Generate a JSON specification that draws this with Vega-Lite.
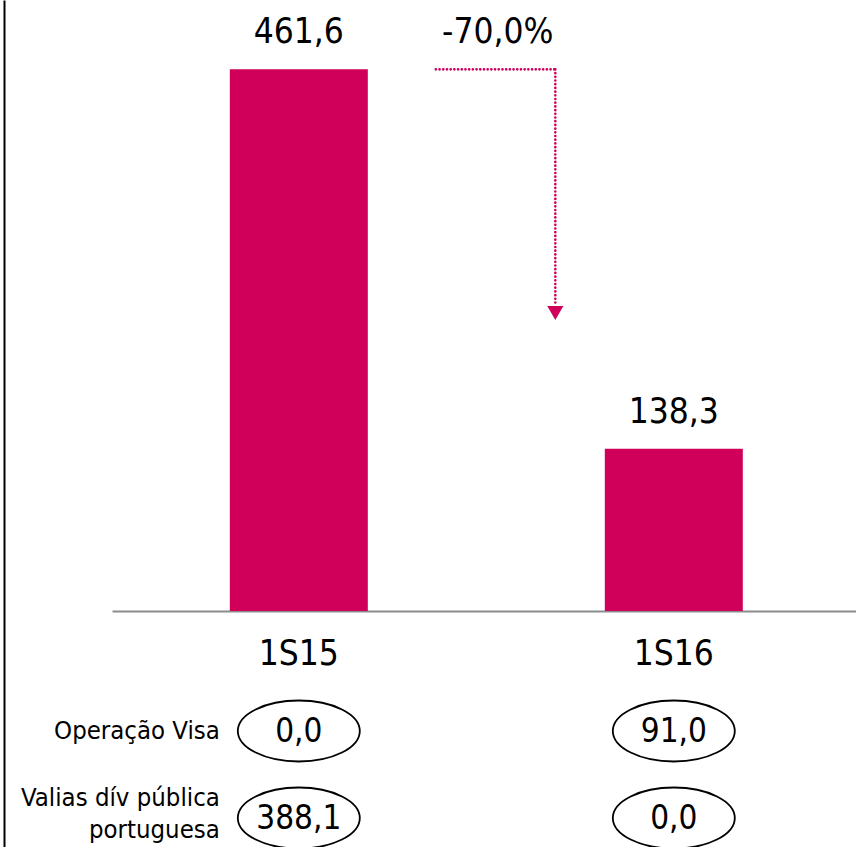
{
  "$schema": "https://vega.github.io/schema/vega-lite/v6.json",
  "width": 744,
  "height": 847,
  "autosize": {"type": "none"},
  "padding": {"left": 112, "top": 0, "right": 0, "bottom": 0},
  "background": "white",
  "config": {
    "view": {"stroke": null},
    "font": "DejaVu Sans Condensed",
    "text": {"font": "DejaVu Sans Condensed", "color": "#000000"},
    "axis": {"labelFont": "DejaVu Sans Condensed"}
  },
  "datasets": {
    "bars": [
      {"period": "1S15", "value": 461.6, "label": "461,6"},
      {"period": "1S16", "value": 138.3, "label": "138,3"}
    ],
    "table": [
      {"period": "1S15", "item": "Operação Visa", "value": "0,0"},
      {"period": "1S16", "item": "Operação Visa", "value": "91,0"},
      {"period": "1S15", "item": "Valias dív pública\nportuguesa", "value": "388,1"},
      {"period": "1S16", "item": "Valias dív pública\nportuguesa", "value": "0,0"}
    ],
    "change": [
      {"from": "1S15", "to": "1S16", "start": 461.6, "end": 262, "head": 254, "label": "-70,0%"}
    ]
  },
  "layer": [
    {
      "layer": [
        {
          "data": {"name": "bars"},
          "mark": {"type": "bar", "color": "#D0005A"},
          "encoding": {
            "x": {
              "field": "period", "type": "nominal",
              "scale": {"domain": ["1S15", "1S16"], "paddingInner": 0.632, "paddingOuter": 0.308, "align": 0.51},
              "axis": {
                "title": null, "orient": "bottom", "offset": -236,
                "domainColor": "#8c8c8c", "domainWidth": 2, "ticks": false,
                "labelFontSize": 35, "labelColor": "#000000", "labelPadding": 53,
                "labelBaseline": "alphabetic", "labelAngle": 0, "grid": false
              }
            },
            "y": {
              "field": "value", "type": "quantitative",
              "scale": {"domain": [-201.1, 520.7], "nice": false},
              "axis": {
                "title": null, "offset": 108, "domainColor": "#000000", "domainWidth": 2,
                "ticks": false, "labels": false, "grid": false
              }
            },
            "y2": {"datum": 0}
          }
        },
        {
          "data": {"name": "bars"},
          "mark": {"type": "text", "fontSize": 35, "baseline": "alphabetic", "dy": -26},
          "encoding": {
            "x": {"field": "period", "type": "nominal"},
            "y": {"field": "value", "type": "quantitative"},
            "text": {"field": "label"}
          }
        },
        {
          "data": {"name": "change"},
          "mark": {"type": "rule", "color": "#D0005A", "strokeWidth": 2.6, "strokeDash": [0.1, 3.6], "strokeCap": "round", "xOffset": 137, "x2Offset": -118.5},
          "encoding": {
            "x": {"field": "from", "type": "nominal"},
            "x2": {"field": "to"},
            "y": {"field": "start", "type": "quantitative"}
          }
        },
        {
          "data": {"name": "change"},
          "mark": {"type": "rule", "color": "#D0005A", "strokeWidth": 2.6, "strokeDash": [0.1, 3.6], "strokeCap": "round", "xOffset": -118.5},
          "encoding": {
            "x": {"field": "to", "type": "nominal"},
            "y": {"field": "start", "type": "quantitative"},
            "y2": {"field": "end"}
          }
        },
        {
          "data": {"name": "change"},
          "mark": {"type": "point", "shape": "triangle-down", "filled": true, "color": "#D0005A", "size": 260, "opacity": 1, "xOffset": -118.5},
          "encoding": {
            "x": {"field": "to", "type": "nominal"},
            "y": {"field": "head", "type": "quantitative"}
          }
        },
        {
          "data": {"name": "change"},
          "mark": {"type": "text", "fontSize": 35, "baseline": "alphabetic", "dy": -26, "dx": 199},
          "encoding": {
            "x": {"field": "from", "type": "nominal"},
            "y": {"field": "start", "type": "quantitative"},
            "text": {"field": "label"}
          }
        }
      ]
    },
    {
      "data": {"name": "table"},
      "layer": [
        {
          "mark": {
            "type": "point",
            "shape": "M-1,0A1,0.5,0,1,1,1,0A1,0.5,0,1,1,-1,0Z",
            "size": 14884, "filled": false, "stroke": "#000000", "strokeWidth": 1.8, "opacity": 1
          },
          "encoding": {
            "x": {"field": "period", "type": "nominal"},
            "y": {
              "field": "item", "type": "nominal",
              "scale": {"type": "point", "domain": ["Operação Visa", "Valias dív pública\nportuguesa"], "range": [731, 818], "padding": 0},
              "axis": null
            }
          }
        },
        {
          "mark": {"type": "text", "fontSize": 33, "baseline": "middle", "dy": 1},
          "encoding": {
            "x": {"field": "period", "type": "nominal"},
            "y": {"field": "item", "type": "nominal"},
            "text": {"field": "value"}
          }
        },
        {
          "transform": [{"filter": "datum.period === '1S15' && datum.item === 'Operação Visa'"}],
          "mark": {"type": "text", "fontSize": 25.5, "baseline": "middle", "align": "right", "dx": -79},
          "encoding": {
            "x": {"field": "period", "type": "nominal"},
            "y": {"field": "item", "type": "nominal"},
            "text": {"field": "item"}
          }
        },
        {
          "transform": [{"filter": "datum.period === '1S15' && datum.item !== 'Operação Visa'"}],
          "mark": {"type": "text", "fontSize": 25.5, "baseline": "middle", "align": "right", "dx": -79, "dy": -20, "lineBreak": "\n", "lineHeight": 32},
          "encoding": {
            "x": {"field": "period", "type": "nominal"},
            "y": {"field": "item", "type": "nominal"},
            "text": {"field": "item"}
          }
        }
      ]
    }
  ],
  "resolve": {"scale": {"y": "independent"}, "axis": {"y": "independent"}}
}
